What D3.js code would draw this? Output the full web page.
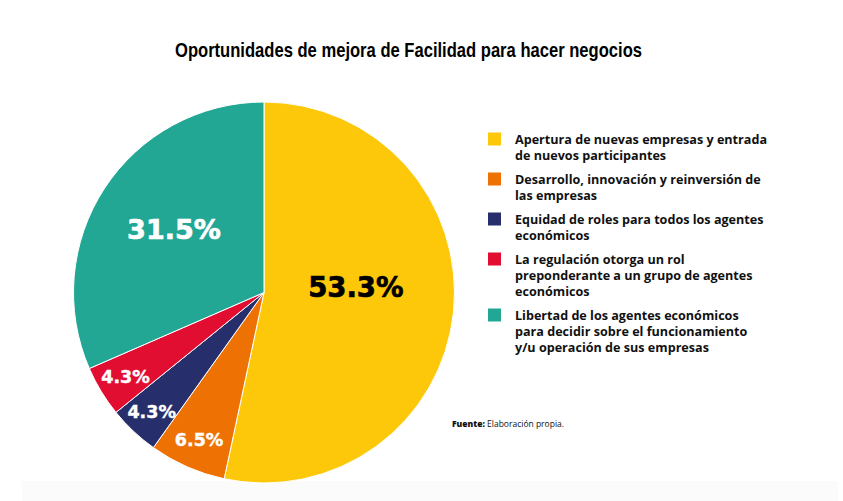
<!DOCTYPE html>
<html>
<head>
<meta charset="utf-8">
<script src="https://cdn.jsdelivr.net/npm/d3@7"></script>
<style>
  html, body { margin: 0; padding: 0; background: #fff; }
  svg { display: block; }
</style>
</head>
<body>
<svg id="chart" width="843" height="501"></svg>
<script>
// ---- Data ----
const title = "Oportunidades de mejora de Facilidad para hacer negocios";
const categories = [
  "Apertura de nuevas empresas y entrada de nuevos participantes",
  "Desarrollo, innovación y reinversión de las empresas",
  "Equidad de roles para todos los agentes económicos",
  "La regulación otorga un rol preponderante a un grupo de agentes económicos",
  "Libertad de los agentes económicos para decidir sobre el funcionamiento y/u operación de sus empresas"
];
const legendLines = [
  ["Apertura de nuevas empresas y entrada", "de nuevos participantes"],
  ["Desarrollo, innovación y reinversión de", "las empresas"],
  ["Equidad de roles para todos los agentes", "económicos"],
  ["La regulación otorga un rol", "preponderante a un grupo de agentes", "económicos"],
  ["Libertad de los agentes económicos", "para decidir sobre el funcionamiento", "y/u operación de sus empresas"]
];
const values = [53.3, 6.5, 4.3, 4.3, 31.5];
const valueLabels = ["53.3%", "6.5%", "4.3%", "4.3%", "31.5%"];
const sourceBold = "Fuente:";
const sourceText = " Elaboración propia.";

// ---- Style / layout ----
const colors = ["#FEC80A", "#EE7203", "#262F6B", "#E20E32", "#22A795"];
const labelColors = ["#000", "#fff", "#fff", "#fff", "#fff"];
const labelSizes = [27.5, 17.5, 17.5, 17.5, 27];
const labelRadius = [92, 161, 164, 162, 110];
const labelAngleShift = [-9.3, 0, 0, 0, 1.8];

const svg = d3.select("#chart");
const cx = 264, cy = 292.5, R = 190.5;

// faint bottom band
svg.append("rect").attr("x", 22).attr("y", 481).attr("width", 816).attr("height", 20).attr("fill", "#fbfbfb");

// Title
svg.append("text")
  .attr("x", 175).attr("y", 57)
  .attr("textLength", 467).attr("lengthAdjust", "spacingAndGlyphs")
  .attr("font-family", "'Liberation Sans Narrow', 'Liberation Sans', Arial, sans-serif")
  .attr("font-weight", 700).attr("font-size", 21)
  .attr("fill", "#000")
  .text(title);

// Pie
const pie = d3.pie().value(d => d).sort(null);
const arcs = pie(values);
const arc = d3.arc().innerRadius(0).outerRadius(R);
const g = svg.append("g").attr("transform", `translate(${cx},${cy})`);
g.selectAll("path.slice").data(arcs).join("path")
  .attr("class", "slice")
  .attr("d", arc)
  .attr("fill", (d, i) => colors[i])
  .attr("stroke", "#fff").attr("stroke-width", 1);

g.selectAll("text.val").data(arcs).join("text")
  .attr("class", "val")
  .attr("transform", (d, i) => {
    const a = (d.startAngle + d.endAngle) / 2 + labelAngleShift[i] * Math.PI / 180;
    const r = labelRadius[i];
    return `translate(${r * Math.sin(a)},${-r * Math.cos(a)})`;
  })
  .attr("text-anchor", "middle").attr("dominant-baseline", "central")
  .attr("font-family", "'DejaVu Sans', sans-serif")
  .attr("font-weight", 700)
  .attr("font-size", (d, i) => labelSizes[i])
  .attr("fill", (d, i) => labelColors[i])
  .attr("stroke", (d, i) => labelColors[i])
  .attr("stroke-width", (d, i) => labelSizes[i] > 20 ? 0.7 : 0.4)
  .text((d, i) => valueLabels[i]);

// Legend
const legX = 488, textX = 515, lineH = 16, itemGap = 8;
let y = 139;
const leg = svg.append("g");
legendLines.forEach((lines, i) => {
  leg.append("rect").attr("x", legX).attr("y", y - 6.5).attr("width", 13).attr("height", 13).attr("fill", colors[i]);
  lines.forEach((ln, j) => {
    leg.append("text")
      .attr("x", textX).attr("y", y + j * lineH)
      .attr("dominant-baseline", "central")
      .attr("font-family", "'Open Sans', sans-serif")
      .attr("font-weight", 700).attr("font-size", 12.6)
      .attr("fill", "#111")
      .text(ln);
  });
  y += lines.length * lineH + itemGap;
});

// Source
const src = svg.append("text").attr("x", 452).attr("y", 427)
  .attr("font-family", "'Open Sans', sans-serif").attr("font-size", 8.5).attr("fill", "#111");
src.append("tspan").attr("font-weight", 800).text(sourceBold);
src.append("tspan").attr("font-weight", 400).text(sourceText);
</script>
</body>
</html>
